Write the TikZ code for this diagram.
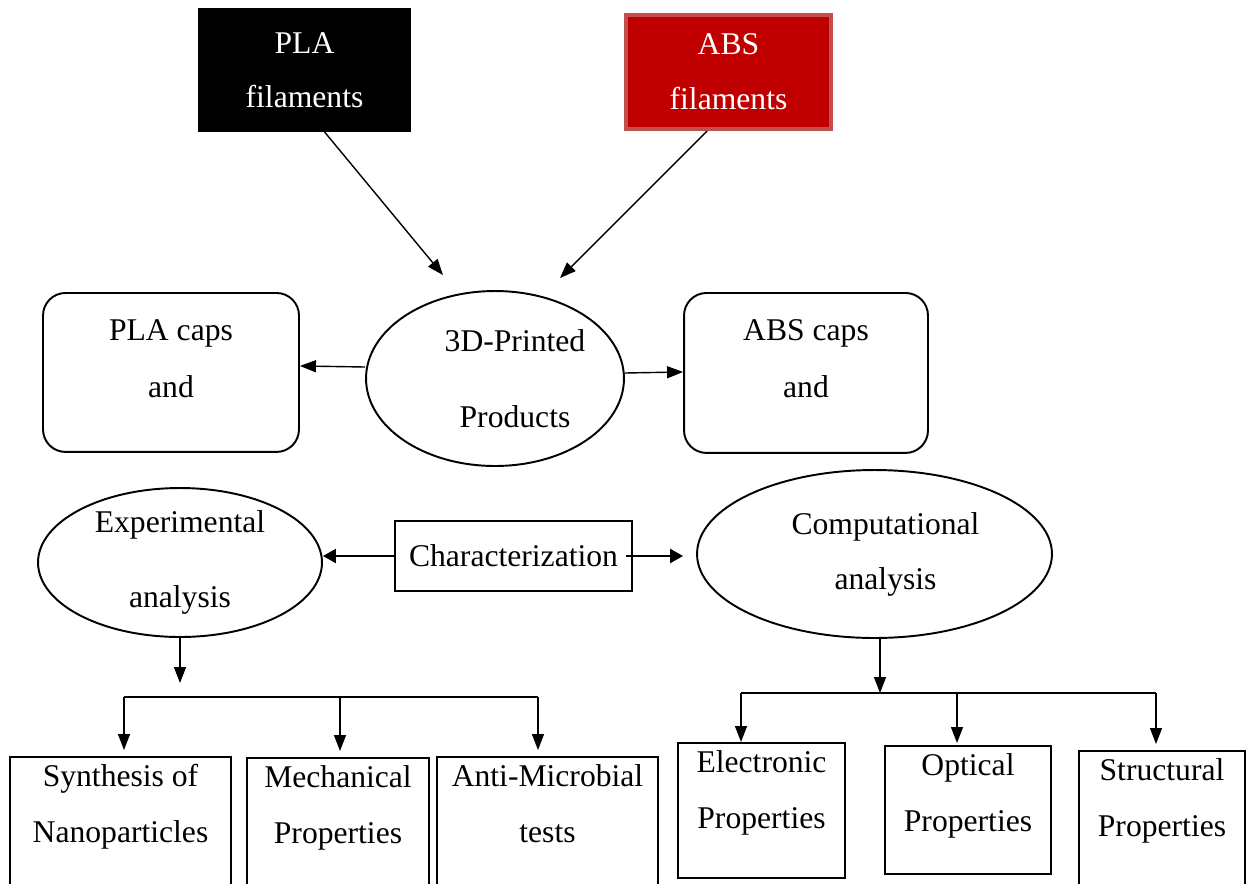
\documentclass[tikz,border=0pt]{standalone}
\usepackage{fontspec}
\setmainfont{Liberation Serif}
\usetikzlibrary{positioning,arrows.meta,shapes.geometric}
\definecolor{absFill}{HTML}{C00000}
\definecolor{absStroke}{HTML}{C0504D}

\begin{document}
\begin{tikzpicture}[
  x=0.02cm, y=-0.02cm,
  font=\fontsize{18}{32.3}\selectfont,
  filbox/.style={draw, line width=1pt, align=center, inner sep=0pt, text=white},
  capbox/.style={draw, line width=1.1pt, rounded corners=0.45cm, fill=white,
                 align=flush center, inner sep=0pt, anchor=north, text height=0.96cm},
  oval/.style={ellipse, draw, line width=1.1pt, fill=white, align=center, inner sep=0pt},
  charbox/.style={draw, line width=1.3pt, fill=white, inner sep=0pt,
                  minimum width=4.74cm, minimum height=1.4cm},
  leaf/.style={draw, line width=1.4pt, fill=white, align=flush center, inner sep=0pt,
               anchor=north, text height=0.58cm},
  arr/.style={-{Triangle[length=3.2mm,width=2.4mm]}, line width=0.8pt},
  carr/.style={-{Triangle[length=2.6mm,width=2.8mm]}, line width=1.3pt},
  bar/.style={line width=1.6pt},
]
\useasboundingbox (0,0) rectangle (1250,883);

% ---------------- NODES (absolute grid) ----------------
\node[filbox, fill=black, minimum width=4.22cm, minimum height=2.44cm] (PLA)
  at (304.5,70) {PLA\\[-1.7pt]filaments};
\node[filbox, fill=absFill, draw=absStroke, line width=2.3pt,
      minimum width=4.1cm, minimum height=2.28cm] (ABS)
  at (728.5,72) {ABS\\[-1pt]filaments};

\node[oval, minimum width=5.16cm, minimum height=3.5cm] (PROD) at (495,378.5)
  {\hspace*{0.8cm}3D-Printed\\[11pt]\hspace*{0.8cm}Products};
\node[capbox, text width=5.12cm, text depth=2.22cm] (PLACAPS) at (171,292) {PLA caps\\and};
\node[capbox, text width=4.88cm, text depth=2.24cm] (ABSCAPS) at (806,292) {ABS caps\\and};

\node[oval, minimum width=5.68cm, minimum height=2.98cm] (EXP) at (180,562.5)
  {Experimental\\[10pt]analysis};
\node[charbox] (CHAR) at (513.5,556) {Characterization};
\node[oval, minimum width=7.1cm, minimum height=3.36cm] (COMP) at (874.5,554)
  {\hspace*{0.44cm}Computational\\[-1pt]\hspace*{0.44cm}analysis};

\node[leaf, text width=4.42cm, text depth=2.2cm] (SYN) at (120.5,756) {Synthesis of\\Nanoparticles};
\node[leaf, text width=3.64cm, text depth=2.18cm] (MECH) at (338,757) {Mechanical\\Properties};
\node[leaf, text width=4.42cm, text depth=2.2cm] (ANTI) at (547.5,756) {Anti-Microbial\\tests};
\node[leaf, text width=3.34cm, text depth=2.12cm] (ELEC) at (761.5,742) {Electronic\\Properties};
\node[leaf, text width=3.32cm, text depth=1.98cm] (OPT) at (968,745) {Optical\\Properties};
\node[leaf, text width=3.32cm, text depth=2.32cm] (STRUC) at (1162,750) {Structural\\Properties};

% free ends of the two trees
\coordinate (expDrop) at (180,683);
\coordinate (lbarW) at (124,697);
\coordinate (lbarM) at (340,697);
\coordinate (lbarE) at (538,697);
\coordinate (compDrop) at (880,693);
\coordinate (rbarW) at (741,693);
\coordinate (rbarM) at (957,693);
\coordinate (rbarE) at (1156,693);

% ---------------- EDGES ----------------
\draw[arr] ([xshift=0.4cm]PLA.south) -- ([xshift=-1.04cm,yshift=0.3cm]PROD.north);
\draw[arr] ([xshift=-0.43cm]ABS.south) -- ([xshift=1.3cm,yshift=0.24cm]PROD.north);
\draw[arr] ([yshift=0.23cm]PROD.west) -- ([yshift=0.13cm]PLACAPS.east);
\draw[arr] ([yshift=0.11cm]PROD.east) -- ([yshift=0.02cm]ABSCAPS.west);

\draw[carr] (CHAR.west) -- (CHAR.west -| EXP.east);
\draw[carr, shorten >=0.26cm] ([xshift=-0.14cm]CHAR.east) -- (CHAR.east -| COMP.west);

% experimental branch
\draw[arr] (EXP.south) -- (expDrop);
\draw[bar] (lbarW) -- (lbarE);
\draw[arr, shorten >=0.12cm] (lbarW) -- (lbarW |- SYN.north);
\draw[arr, shorten >=0.12cm] (lbarM) -- (lbarM |- MECH.north);
\draw[arr, shorten >=0.12cm] (lbarE) -- (lbarE |- ANTI.north);

% computational branch
\draw[arr] (COMP.south -| compDrop) -- (compDrop);
\draw[bar] (rbarW) -- (rbarE);
\draw[arr] (rbarW) -- (rbarW |- ELEC.north);
\draw[arr, shorten >=0.04cm] (rbarM) -- (rbarM |- OPT.north);
\draw[arr, shorten >=0.12cm] (rbarE) -- (rbarE |- STRUC.north);
\end{tikzpicture}
\end{document}
